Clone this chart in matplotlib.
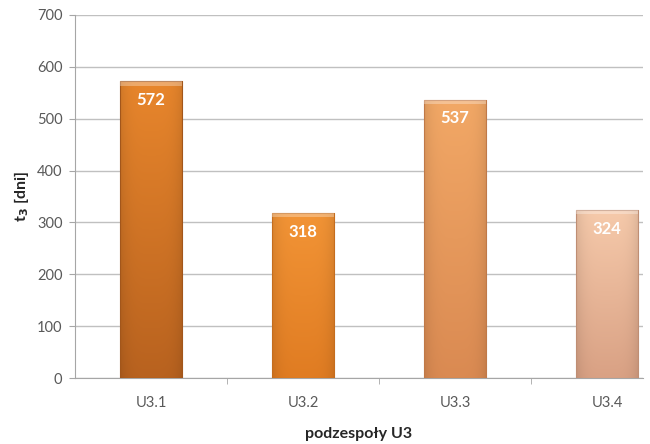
import matplotlib
matplotlib.use("Agg")
import matplotlib.pyplot as plt
import matplotlib.colors as mcolors
import numpy as np

plt.rcParams['font.family'] = ['Lato', 'DejaVu Sans']

categories = ["U3.1", "U3.2", "U3.3", "U3.4"]
values = [572, 318, 537, 324]
# top / bottom shades of each bar
top_colors = ["#E8862C", "#F29436", "#F2A866", "#F6CAAB"]
bottom_colors = ["#B8621F", "#E07C22", "#DA8A52", "#D9A184"]

fig = plt.figure(figsize=(6.5, 4.44), dpi=100)
ax = fig.add_axes([75 / 650, 66 / 444, 568 / 650, 363 / 444])

x = np.arange(len(categories))
width = 0.41
bars = ax.bar(x, values, width=width, color="none", edgecolor="none", zorder=3)

for bar, c_top, c_bot, v in zip(bars, top_colors, bottom_colors, values):
    x0, y0 = bar.get_x(), bar.get_y()
    w, h = bar.get_width(), bar.get_height()
    cmap = mcolors.LinearSegmentedColormap.from_list("g", [c_bot, c_top])
    grad = np.linspace(0, 1, 256).reshape(-1, 1)
    # a touch darker towards the sides
    side = 1 - 0.1 * np.abs(np.linspace(-1, 1, 64)) ** 4
    img = cmap(grad)[:, :, :3] * side[None, :, None]
    im = ax.imshow(img, extent=[x0, x0 + w, y0, y0 + h], origin="lower",
                   aspect="auto", zorder=3, interpolation="bilinear")
    im.set_clip_path(bar)
    edge = mcolors.to_rgb(c_bot)
    ax.add_patch(plt.Rectangle((x0, y0), w, h, fill=False,
                               edgecolor=tuple(c * 0.88 for c in edge),
                               lw=0.8, zorder=4))
    # light cap at the top of the bar
    ax.add_patch(plt.Rectangle((x0, y0 + h - 8), w, 8, color="white",
                               alpha=0.3, lw=0, zorder=4))
    ax.text(x0 + w / 2, v - 36, str(v), ha="center", va="center",
            color="white", fontsize=12, fontweight="bold", zorder=5)

ax.set_xlim(-0.5, 3.237)
ax.set_ylim(0, 700)
ax.set_yticks(range(0, 701, 100))
ax.set_xticks(x)
ax.set_xticklabels(categories)
ax.set_xticks(np.arange(0.5, 3, 1), minor=True)

ax.grid(axis="y", color="#C0C0C0", lw=1, zorder=0)
ax.set_axisbelow(True)

for s in ["top", "right"]:
    ax.spines[s].set_visible(False)
ax.spines["left"].set_color("#A6A6A6")
ax.spines["bottom"].set_color("#A6A6A6")

ax.tick_params(axis="y", colors="#A6A6A6", labelcolor="#595959",
               labelsize=10.5, length=4, pad=5)
ax.tick_params(axis="x", which="major", length=0, labelcolor="#595959",
               labelsize=10.5, pad=13)
ax.tick_params(axis="x", which="minor", colors="#A6A6A6", length=4)

ax.set_xlabel("podzespoły U3", fontsize=11.5, fontweight="bold",
              color="#262626", labelpad=12)
ax.set_ylabel(r"t$_\mathbf{3}$ [dni]", fontsize=11.5, fontweight="bold",
              color="#262626", labelpad=4)

fig.savefig("out.png", dpi=100)
